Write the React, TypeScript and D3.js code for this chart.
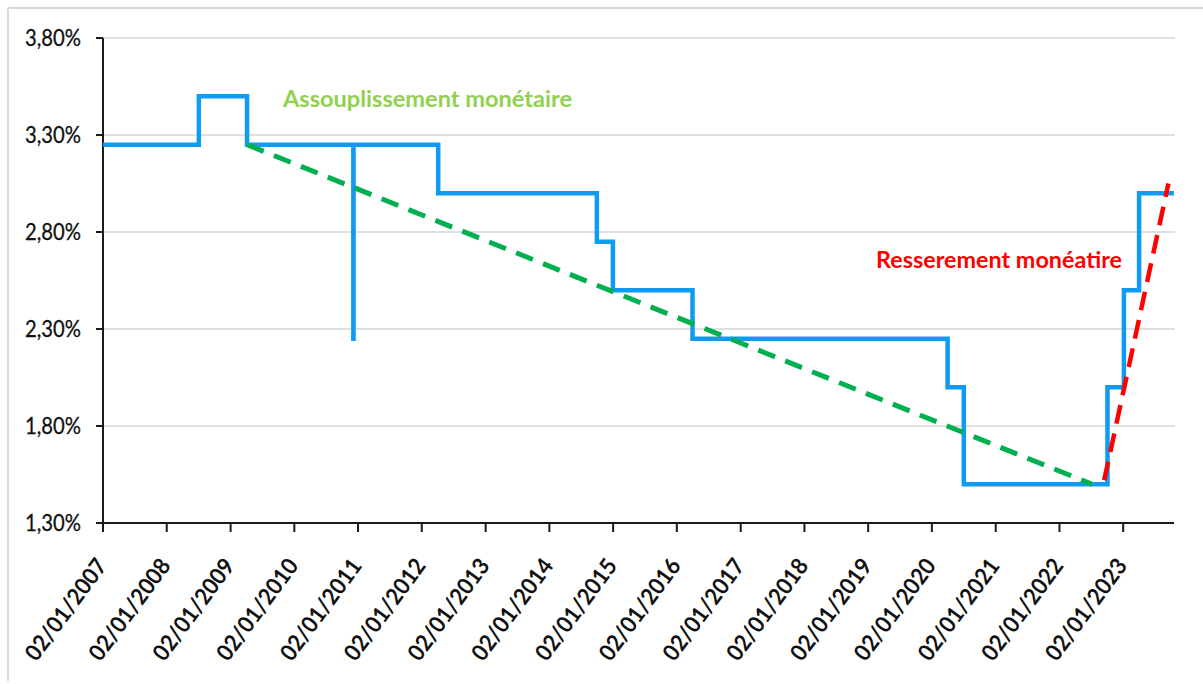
import React from "react";
import * as d3 from "d3";

// Policy rate (%) — each entry is the date a level starts
const rateDates = [
  "2007-01-02", "2008-07-04", "2009-04-06", "2010-12-06", "2010-12-07",
  "2012-04-05", "2014-10-01", "2015-01-01", "2016-04-01", "2020-04-01",
  "2020-07-03", "2022-10-04", "2023-01-06", "2023-04-03", "2023-10-19",
];
const rateValues = [
  3.25, 3.5, 3.25, 2.25, 3.25,
  3.0, 2.75, 2.5, 2.25, 2.0,
  1.5, 2.0, 2.5, 3.0, 3.0,
];

// Trend lines
const easingDates = ["2009-04-06", "2022-07-08"];
const easingValues = [3.25, 1.5];
const tighteningDates = ["2022-09-15", "2023-09-18"];
const tighteningValues = [1.52, 3.05];

const yTicks = [1.3, 1.8, 2.3, 2.8, 3.3, 3.8];
const xTickYears = [
  2007, 2008, 2009, 2010, 2011, 2012, 2013, 2014, 2015,
  2016, 2017, 2018, 2019, 2020, 2021, 2022, 2023,
];

const W = 1203;
const H = 684;
const m = { left: 103, right: 1174, top: 38, bottom: 523 };

const parse = d3.utcParse("%Y-%m-%d");
const fmtDate = d3.utcFormat("%d/%m/%Y");
const fmtPct = (v: number) => v.toFixed(2).replace(".", ",") + "%";

export default function App() {
  const x = d3
    .scaleUtc()
    .domain([parse("2007-01-02")!, parse("2023-10-20")!])
    .range([m.left, m.right]);
  const y = d3.scaleLinear().domain([1.3, 3.8]).range([m.bottom, m.top]);

  const rate = rateDates.map((d, i) => ({ d: parse(d)!, v: rateValues[i] }));
  const easing = easingDates.map((d, i) => ({ d: parse(d)!, v: easingValues[i] }));
  const tightening = tighteningDates.map((d, i) => ({ d: parse(d)!, v: tighteningValues[i] }));

  const stepLine = d3
    .line<{ d: Date; v: number }>()
    .x((p) => x(p.d))
    .y((p) => y(p.v))
    .curve(d3.curveStepAfter);
  const straight = d3
    .line<{ d: Date; v: number }>()
    .x((p) => x(p.d))
    .y((p) => y(p.v));

  const xTicks = xTickYears.map((yr) => new Date(Date.UTC(yr, 0, 2)));
  const font = "Lato, 'Open Sans', sans-serif";

  return (
    <svg
      width={W}
      height={H}
      style={{ position: "absolute", left: 0, top: 0, display: "block", background: "#fff" }}
    >
      {/* frame */}
      <line x1={8} y1={8} x2={W} y2={8} stroke="#d9d9d9" strokeWidth={2} />
      <line x1={8} y1={8} x2={8} y2={681} stroke="#d9d9d9" strokeWidth={2} />

      {/* gridlines */}
      {yTicks.slice(1).map((t) => (
        <line key={t} x1={m.left} x2={m.right + 1} y1={y(t)} y2={y(t)} stroke="#e0e0e0" strokeWidth={2} />
      ))}

      {/* y axis */}
      <line x1={m.left} x2={m.left} y1={m.top} y2={m.bottom} stroke="#1a1a1a" strokeWidth={2} />
      {yTicks.map((t) => (
        <g key={t}>
          <line x1={m.left - 7} x2={m.left} y1={y(t)} y2={y(t)} stroke="#1a1a1a" strokeWidth={2} />
          <text
            x={81}
            y={y(t)}
            dy="0.36em"
            textAnchor="end"
            fontFamily={font}
            fontSize={23}
            fill="#111"
            stroke="#111"
            strokeWidth={0.3}
            textLength={56}
            lengthAdjust="spacingAndGlyphs"
          >
            {fmtPct(t)}
          </text>
        </g>
      ))}

      {/* x axis */}
      <line x1={m.left - 1} x2={m.right} y1={m.bottom} y2={m.bottom} stroke="#1a1a1a" strokeWidth={2} />
      {xTicks.map((t) => (
        <g key={t.getTime()}>
          <line x1={x(t)} x2={x(t)} y1={m.bottom} y2={m.bottom + 9} stroke="#1a1a1a" strokeWidth={2} />
          <text
            transform={`translate(${x(t) + 5},${m.bottom + 43}) rotate(-53.5)`}
            textAnchor="end"
            fontFamily={font}
            fontWeight="bold"
            fontSize={23}
            fill="#111"
            textLength={120}
            lengthAdjust="spacingAndGlyphs"
          >
            {fmtDate(t)}
          </text>
        </g>
      ))}

      {/* policy rate */}
      <path
        d={stepLine(rate)!}
        fill="none"
        stroke="#0f9bf2"
        strokeWidth={4.5}
        strokeLinejoin="miter"
      />

      {/* easing trend */}
      <path
        d={straight(easing)!}
        fill="none"
        stroke="#00b050"
        strokeWidth={5}
        strokeDasharray="18 11"
      />

      {/* tightening trend */}
      <path
        d={straight(tightening)!}
        fill="none"
        stroke="#ff0000"
        strokeWidth={4.5}
        strokeDasharray="19 10"
      />

      <text
        x={283}
        y={107}
        fontFamily={font}
        fontWeight="bold"
        fontSize={23}
        fill="#92d050"
        textLength={289}
        lengthAdjust="spacingAndGlyphs"
      >
        Assouplissement monétaire
      </text>
      <text
        x={876}
        y={268}
        fontFamily={font}
        fontWeight="bold"
        fontSize={23}
        fill="#ff0000"
        textLength={246}
        lengthAdjust="spacingAndGlyphs"
      >
        Resserement monéatire
      </text>
    </svg>
  );
}
